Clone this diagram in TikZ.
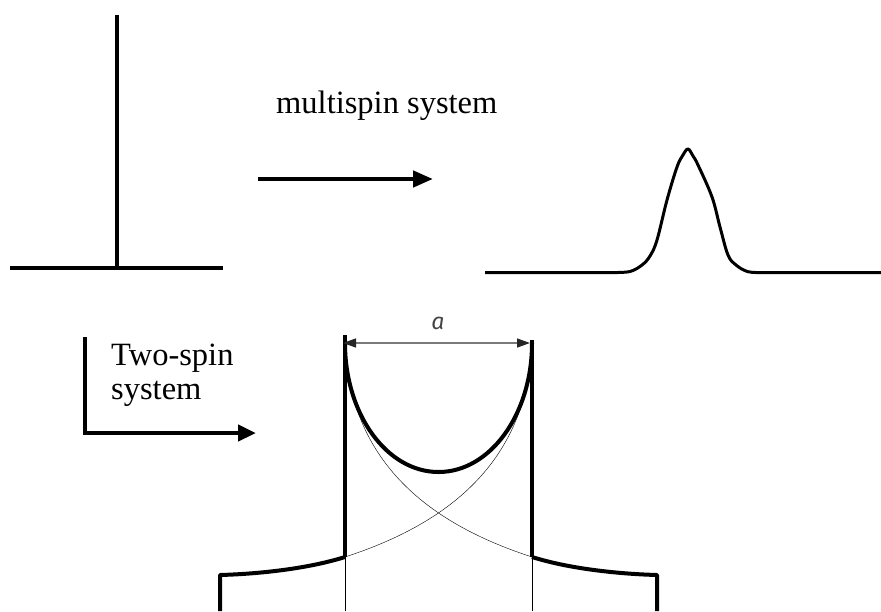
\documentclass[tikz,border=0pt]{standalone}
\usepackage{fontspec}
\setmainfont{Liberation Serif}
\newfontfamily\labelfont{Fira Sans}
\usetikzlibrary{arrows.meta}
\definecolor{thin}{HTML}{444444}
\definecolor{dimgray}{HTML}{7A7A7A}
\begin{document}
\begin{tikzpicture}[x=1pt,y=-1pt,
  thickline/.style={line width=4pt,black},
  bigarrow/.style={line width=4.5pt,-{Triangle[length=20pt,width=16pt]}},
  thincurve/.style={line width=2pt,thin},
  txt/.style={inner sep=0pt,anchor=base west,font=\fontsize{32.5}{35}\selectfont},
  dimline/.style={line width=1.4pt,dimgray,{Triangle[length=13pt,width=9pt,color=black!85]}-{Triangle[length=13pt,width=9pt,color=black!85]}}]
\useasboundingbox (0,0) rectangle (881,611);
% top-left spike
\draw[thickline] (117,15) -- (117,268);
\draw[thickline] (10,268) -- (223,268);
% multispin arrow
\coordinate (ma) at (258,179);
\coordinate (mb) at (433,179);
\draw[bigarrow] (ma) -- (mb);
\node[txt] (mtxt) at (276,113) {multispin system};
% gaussian
\draw[line width=3pt,line join=round] (485,272.5) -- (613,272.5)
  plot[smooth,tension=0.6] coordinates {(613,272.5) (630,271.5) (642,265) (650,256) (657,240) (667,200) (677,167) (683,155) (688,149) (693,156) (698,165) (712,197) (720,227) (728,255) (736,265) (748,271.7) (763,272.5)}
  -- (881,272.5);
% two-spin L arrow
\coordinate (la) at (85,337);
\coordinate (lc) at (85,433);
\coordinate (lb) at (256,433);
\draw[line width=4.5pt,-{Triangle[length=18pt,width=16pt]}] (la) -- (lc) -- (lb);
\node[txt] (t1) at (111,365) {Two-spin};
\node[txt] (t2) at (111,399) {system};
% bottom figure: thin parts
\draw[thincurve] (345,557) -- (345,611);
\draw[thincurve] (532,557) -- (532,611);
\draw[thincurve] (345,343) .. controls (350,470) and (440,527) .. (532,557);
\draw[thincurve] (532,343) .. controls (527,470) and (437,527) .. (345,557);
% thick verticals
\draw[thickline] (345,335) -- (345,557);
\draw[thickline] (532,340) -- (532,557);
% thick U
\draw[thickline] (345,343) arc[start angle=180,end angle=360,x radius=93.5,y radius=-129];
% outer thick wings
\draw[thickline,line join=round] (532,557) .. controls (570,569) and (620,574) .. (657,575) -- (657,611);
\draw[thickline,line join=round] (345,557) .. controls (307,569) and (257,574) .. (220,575) -- (220,611);
% dimension
\coordinate (dl) at (343,343);
\coordinate (dr) at (530,343);
\draw[dimline] (dl) -- (dr);
\node[text=thin,font=\labelfont\itshape\fontsize{23}{24}\selectfont,inner sep=0pt] (alab) at (438,323) {a};
\end{tikzpicture}
\end{document}
